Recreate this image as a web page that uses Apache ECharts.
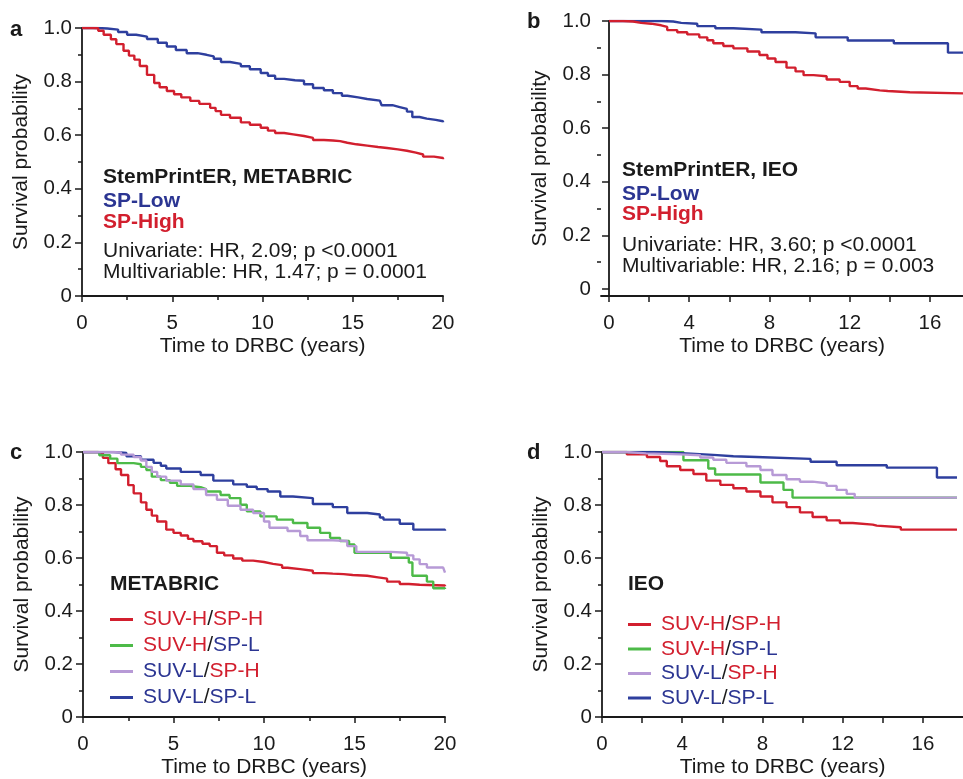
<!DOCTYPE html>
<html>
<head>
<meta charset="utf-8">
<script src="https://cdn.jsdelivr.net/npm/echarts@6/dist/echarts.min.js"></script>
<style>
  html, body { margin: 0; padding: 0; background: #fff; }
  #main { width: 963px; height: 779px; }
</style>
</head>
<body>
<div id="main"></div>
<script>
// Kaplan-Meier curves as [years, survival]
const metabricSpLow = [[0,1],[0.8,0.998],[1.4,0.994],[2.0,0.985],[2.5,0.975],[3.0,0.968],[3.6,0.959],[4.2,0.945],[4.7,0.931],[5.2,0.918],[5.8,0.906],[6.4,0.9],[6.9,0.894],[7.3,0.885],[7.7,0.873],[8.2,0.866],[8.8,0.857],[9.3,0.846],[9.9,0.832],[10.3,0.822],[10.7,0.81],[11.2,0.805],[11.8,0.803],[12.3,0.79],[12.8,0.776],[13.4,0.768],[13.9,0.757],[14.4,0.747],[14.7,0.741],[15.3,0.735],[15.8,0.729],[16.5,0.726],[16.6,0.712],[17.2,0.705],[17.6,0.698],[18.0,0.688],[18.3,0.668],[18.7,0.662],[19.1,0.657],[19.6,0.652],[20,0.648]];
const metabricSpHigh = [[0,1],[0.6,0.999],[0.9,0.99],[1.2,0.975],[1.6,0.958],[1.9,0.94],[2.3,0.915],[2.6,0.897],[2.9,0.882],[3.2,0.858],[3.6,0.825],[4.0,0.795],[4.3,0.779],[4.7,0.765],[5.1,0.753],[5.5,0.741],[6.0,0.728],[6.5,0.717],[7.1,0.702],[7.4,0.69],[7.7,0.676],[8.2,0.665],[8.8,0.648],[9.3,0.639],[9.9,0.628],[10.3,0.617],[10.7,0.608],[11.2,0.603],[11.7,0.597],[12.3,0.59],[12.8,0.582],[13.4,0.58],[13.9,0.578],[14.3,0.572],[14.7,0.566],[15.2,0.561],[15.8,0.556],[16.4,0.552],[16.9,0.547],[17.5,0.542],[18.0,0.535],[18.5,0.528],[18.9,0.52],[19.5,0.515],[20,0.51]];

const ieoSpLow = [[0,1],[2.6,0.998],[3.2,0.993],[3.6,0.99],[4.4,0.981],[5.3,0.973],[6.2,0.968],[7.6,0.958],[9.3,0.954],[10.3,0.939],[11.9,0.927],[14.2,0.917],[16.9,0.882],[17.65,0.882]];
const ieoSpHigh = [[0,1],[0.7,0.998],[1.2,0.993],[1.6,0.99],[2.1,0.984],[2.6,0.978],[2.9,0.966],[3.4,0.958],[3.9,0.95],[4.5,0.939],[4.9,0.928],[5.2,0.917],[5.7,0.907],[6.2,0.898],[6.9,0.886],[7.5,0.873],[7.9,0.86],[8.3,0.847],[8.85,0.826],[9.3,0.812],[9.7,0.798],[10.2,0.794],[10.85,0.782],[11.5,0.773],[12.0,0.757],[12.4,0.748],[12.8,0.741],[13.5,0.739],[13.9,0.734],[15.0,0.73],[17.65,0.73]];

const metabricHH = [[0,1],[0.8,0.996],[1.1,0.978],[1.4,0.958],[1.8,0.935],[2.1,0.913],[2.5,0.875],[2.8,0.844],[3.2,0.81],[3.5,0.782],[3.8,0.76],[4.1,0.738],[4.6,0.707],[5.0,0.695],[5.4,0.685],[5.8,0.672],[6.1,0.663],[6.6,0.654],[7.0,0.645],[7.4,0.62],[7.8,0.61],[8.3,0.598],[8.8,0.59],[9.4,0.585],[10.0,0.578],[10.5,0.573],[11.0,0.563],[11.3,0.558],[12.0,0.552],[12.7,0.543],[13.3,0.541],[13.8,0.539],[14.4,0.536],[14.9,0.533],[15.7,0.527],[16.3,0.522],[16.8,0.511],[17.5,0.502],[18.0,0.499],[18.6,0.496],[20,0.493]];
const metabricHL = [[0,1],[0.9,0.988],[1.5,0.975],[1.9,0.958],[2.8,0.954],[3.2,0.944],[3.5,0.932],[3.8,0.907],[4.3,0.894],[4.8,0.884],[5.2,0.872],[5.9,0.867],[6.5,0.86],[6.8,0.851],[7.6,0.838],[8.1,0.826],[8.7,0.801],[9.05,0.776],[9.8,0.757],[10.7,0.745],[11.6,0.732],[12.4,0.714],[13.1,0.695],[13.65,0.676],[14.2,0.664],[14.7,0.651],[15.0,0.62],[17.0,0.601],[18.0,0.583],[18.2,0.533],[19.0,0.511],[19.35,0.486],[20,0.483]];
const metabricLH = [[0,1],[1.5,0.998],[2.1,0.99],[2.8,0.981],[3.2,0.968],[3.5,0.944],[3.8,0.925],[4.1,0.907],[4.6,0.892],[5.4,0.878],[6.1,0.86],[6.8,0.838],[7.4,0.82],[8.0,0.797],[8.7,0.782],[9.4,0.77],[10.0,0.738],[10.3,0.714],[11.3,0.702],[12.0,0.683],[12.4,0.667],[13.8,0.664],[14.6,0.645],[15.1,0.623],[17.0,0.62],[17.9,0.61],[18.25,0.595],[18.6,0.577],[19.0,0.564],[19.9,0.56],[20,0.545]];
const metabricLL = [[0,1],[1.7,0.996],[2.4,0.984],[3.2,0.971],[3.9,0.959],[4.3,0.948],[4.6,0.938],[5.4,0.925],[6.5,0.913],[7.2,0.892],[8.3,0.878],[9.05,0.869],[9.6,0.86],[10.2,0.851],[10.9,0.832],[11.6,0.826],[12.7,0.804],[13.8,0.792],[14.6,0.77],[15.7,0.764],[16.4,0.753],[16.6,0.745],[17.5,0.729],[18.25,0.707],[20,0.703]];

const ieoHH = [[0,1],[1.24,0.991],[2.24,0.981],[2.9,0.966],[3.23,0.946],[3.9,0.932],[4.56,0.917],[5.2,0.892],[5.9,0.876],[6.55,0.863],[7.2,0.851],[7.9,0.832],[8.5,0.81],[9.2,0.792],[9.87,0.772],[10.5,0.755],[11.2,0.742],[11.86,0.732],[12.5,0.726],[13.5,0.722],[13.7,0.716],[14.9,0.707],[17.7,0.707]];
const ieoHL = [[0,1],[4.06,0.969],[5.3,0.938],[5.64,0.915],[7.9,0.885],[9.05,0.857],[9.5,0.828],[17.7,0.828]];
const ieoLH = [[0,1],[1.2,0.995],[2.2,0.991],[3.9,0.988],[4.9,0.979],[5.55,0.971],[6.2,0.959],[7.2,0.946],[7.9,0.932],[8.5,0.913],[9.2,0.897],[9.87,0.888],[10.5,0.882],[11.2,0.872],[11.7,0.857],[12.2,0.842],[12.6,0.828],[17.7,0.828]];
const ieoLL = [[0,1],[2.6,0.995],[4.2,0.989],[5.55,0.984],[6.55,0.981],[7.7,0.974],[10.4,0.963],[11.7,0.95],[14.2,0.941],[16.7,0.904],[17.7,0.904]];

const groupNames = ['SUV-H/SP-H', 'SUV-H/SP-L', 'SUV-L/SP-H', 'SUV-L/SP-L'];
const yLabels = [0, 0.2, 0.4, 0.6, 0.8, 1.0];
const yMinor = [0.1, 0.3, 0.5, 0.7, 0.9];
const ieoXLabels = [0, 4, 8, 12, 16];
const ieoXTicks = [0, 2, 4, 6, 8, 10, 12, 14, 16];

const FONT = '"Liberation Sans", Arial, Helvetica, sans-serif';
const INK = '#1a1a1a';
const RED = '#d21f2e';
const BLUE = '#2b3592';
const GREEN = '#4dba48';
const PURPLE = '#b79ad6';
const BLUE2 = '#2e3f9e';
const TICK_FS = 20.5;
const NAME_FS = 21;

const yFmt = v => (v === 0 ? '0' : v.toFixed(1));

function yAxisBase(gi, extra) {
    return Object.assign({
        type: 'value', gridIndex: gi, min: 0, max: 1, interval: 0.2,
        name: 'Survival probability', nameLocation: 'middle', nameGap: 50,
        nameTextStyle: { fontFamily: FONT, fontSize: NAME_FS, color: INK },
        axisLine: { show: true, lineStyle: { color: INK, width: 1.8 } },
        axisTick: { show: true, inside: false, length: 7, lineStyle: { color: INK, width: 1.5 } },
        minorTick: { show: true, splitNumber: 2, length: 4, lineStyle: { color: INK, width: 1.5 } },
        axisLabel: { fontFamily: FONT, fontSize: TICK_FS, color: INK, margin: 10, formatter: yFmt },
        splitLine: { show: false }
    }, extra || {});
}

function xAxisBase(gi, extra) {
    return Object.assign({
        type: 'value', gridIndex: gi,
        name: 'Time to DRBC (years)', nameLocation: 'middle', nameGap: 40,
        nameTextStyle: { fontFamily: FONT, fontSize: NAME_FS, color: INK },
        axisLine: { show: true, onZero: false, lineStyle: { color: INK, width: 1.8 } },
        axisTick: { show: true, inside: false, length: 6, lineStyle: { color: INK, width: 1.5 } },
        axisLabel: { fontFamily: FONT, fontSize: TICK_FS, color: INK, margin: 17 },
        splitLine: { show: false }
    }, extra || {});
}

function km(name, xi, data, color, z) {
    return {
        name: name, type: 'line', xAxisIndex: xi, yAxisIndex: xi, data: data,
        step: 'end', showSymbol: false, symbol: 'none', silent: true, z: z || 2,
        lineStyle: { color: color, width: 2.4 }, itemStyle: { color: color }
    };
}

const richNames = {
    'SUV-H/SP-H': '{r|SUV-H}/{r|SP-H}',
    'SUV-H/SP-L': '{r|SUV-H}/{b|SP-L}',
    'SUV-L/SP-H': '{b|SUV-L}/{r|SP-H}',
    'SUV-L/SP-L': '{b|SUV-L}/{b|SP-L}'
};

function legendAt(left, top, gap) {
    return {
        data: groupNames, left: left, top: top, orient: 'vertical',
        selectedMode: false, icon: 'rect', itemWidth: 23, itemHeight: 3, itemGap: gap,
        formatter: n => richNames[n],
        textStyle: {
            fontFamily: FONT, fontSize: 21, color: INK, lineHeight: 20, padding: [0, 0, 0, 5],
            rich: {
                r: { color: RED, fontFamily: FONT, fontSize: 21 },
                b: { color: BLUE, fontFamily: FONT, fontSize: 21 }
            }
        }
    };
}

function txt(x, y, text, color, bold, size) {
    return {
        type: 'text', x: x, y: y, silent: true,
        style: {
            text: text, fill: color,
            font: (bold ? 'bold ' : '') + (size || 21) + 'px ' + FONT,
            verticalAlign: 'middle'
        }
    };
}

const chart = echarts.init(document.getElementById('main'));
chart.setOption({
    backgroundColor: '#fff',
    animation: false,
    grid: [
        { left: 82, top: 28, width: 361, height: 268 },
        { left: 601, top: 21, width: 362, height: 275 },
        { left: 83, top: 452, width: 362, height: 267 },
        { left: 602, top: 452, width: 361, height: 267 }
    ],
    xAxis: [
        xAxisBase(0, { min: 0, max: 20, interval: 5,
            minorTick: { show: true, splitNumber: 2, length: 4, lineStyle: { color: INK, width: 1.5 } } }),
        xAxisBase(1, { min: -0.4, max: 17.65,
            axisTick: { show: true, length: 6, customValues: ieoXTicks, lineStyle: { color: INK, width: 1.5 } },
            axisLabel: { fontFamily: FONT, fontSize: TICK_FS, color: INK, margin: 17, customValues: ieoXLabels } }),
        xAxisBase(2, { min: 0, max: 20, interval: 5,
            minorTick: { show: true, splitNumber: 2, length: 4, lineStyle: { color: INK, width: 1.5 } } }),
        xAxisBase(3, { min: 0, max: 18,
            axisTick: { show: true, length: 6, customValues: ieoXTicks, lineStyle: { color: INK, width: 1.5 } },
            axisLabel: { fontFamily: FONT, fontSize: TICK_FS, color: INK, margin: 17, customValues: ieoXLabels } })
    ],
    yAxis: [
        yAxisBase(0),
        yAxisBase(1, { min: -0.026, max: 1, interval: null, minorTick: { show: false },
            axisTick: { show: true, length: 7, customValues: yLabels, lineStyle: { color: INK, width: 1.5 } },
            axisLabel: { fontFamily: FONT, fontSize: TICK_FS, color: INK, margin: 10, formatter: yFmt, customValues: yLabels } }),
        yAxisBase(2),
        yAxisBase(3),
        // minor ticks for panel b
        { type: 'value', gridIndex: 1, min: -0.026, max: 1, position: 'left', offset: 0,
          axisLine: { show: false }, axisLabel: { show: false }, splitLine: { show: false },
          axisTick: { show: true, length: 4, customValues: yMinor, lineStyle: { color: INK, width: 1.5 } } }
    ],
    legend: [legendAt(105, 604, 5), legendAt(623, 609, 3.5)],
    series: [
        km('SP-Low', 0, metabricSpLow, BLUE2),
        km('SP-High', 0, metabricSpHigh, RED),
        km('SP-Low', 1, ieoSpLow, BLUE2),
        km('SP-High', 1, ieoSpHigh, RED),
        km('SUV-H/SP-H', 2, metabricHH, RED),
        km('SUV-H/SP-L', 2, metabricHL, GREEN),
        km('SUV-L/SP-H', 2, metabricLH, PURPLE, 3),
        km('SUV-L/SP-L', 2, metabricLL, BLUE2),
        km('SUV-H/SP-H', 3, ieoHH, RED),
        km('SUV-H/SP-L', 3, ieoHL, GREEN),
        km('SUV-L/SP-H', 3, ieoLH, PURPLE, 3),
        km('SUV-L/SP-L', 3, ieoLL, BLUE2)
    ],
    graphic: [
        txt(10, 30, 'a', INK, true, 22),
        txt(527, 22, 'b', INK, true, 22),
        txt(10, 453, 'c', INK, true, 22),
        txt(527, 453, 'd', INK, true, 22),

        txt(103, 177, 'StemPrintER, METABRIC', INK, true),
        txt(103, 201, 'SP-Low', BLUE, true),
        txt(103, 222, 'SP-High', RED, true),
        txt(103, 251, 'Univariate: HR, 2.09; p <0.0001', INK, false),
        txt(103, 272, 'Multivariable: HR, 1.47; p = 0.0001', INK, false),

        txt(622, 170, 'StemPrintER, IEO', INK, true),
        txt(622, 194, 'SP-Low', BLUE, true),
        txt(622, 214, 'SP-High', RED, true),
        txt(622, 245, 'Univariate: HR, 3.60; p <0.0001', INK, false),
        txt(622, 266, 'Multivariable: HR, 2.16; p = 0.003', INK, false),

        txt(110, 584, 'METABRIC', INK, true),
        txt(628, 584, 'IEO', INK, true)
    ]
});
</script>
</body>
</html>
